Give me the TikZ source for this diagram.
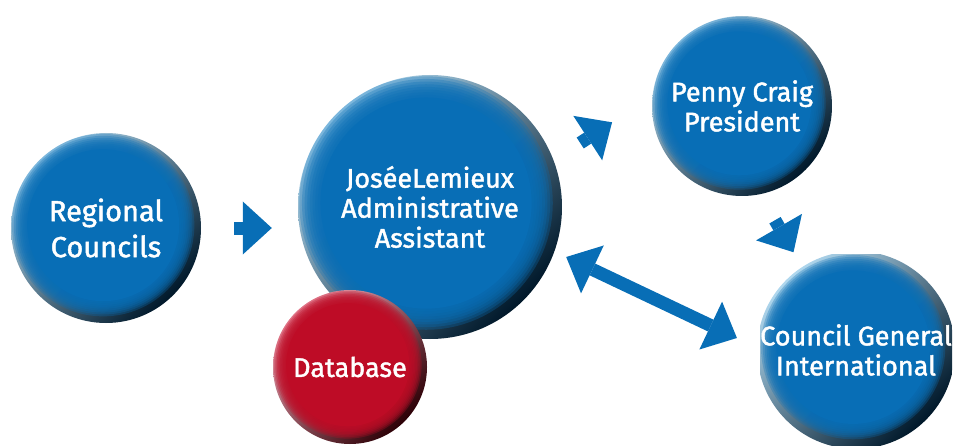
\documentclass[tikz,border=0pt]{standalone}
\usepackage{fontspec}
\setmainfont{Fira Sans}[BoldFont={Fira Sans}, BoldFeatures={FakeBold=1.6}]
\usetikzlibrary{arrows.meta}
\definecolor{btnblue}{RGB}{8,110,182}
\definecolor{btnbluelight}{RGB}{175,215,238}
\definecolor{btnbluedark}{RGB}{0,24,42}
\definecolor{btnred}{RGB}{190,12,38}
\definecolor{btnredlight}{RGB}{240,160,176}
\definecolor{btnreddark}{RGB}{44,0,6}
\colorlet{face}{btnblue}
\colorlet{glow}{btnbluelight}
\colorlet{rim}{btnbluedark}
\tikzset{
  btn/.style={circle, minimum size=2*#1, inner sep=0pt, align=center, text=white,
    font=\bfseries\fontsize{27}{30}\selectfont,
    path picture={
      \shade[top color=glow, middle color=face, bottom color=rim, shading angle=45]
        ([shift={(-#1,-#1)}]path picture bounding box.center) rectangle ++(2*#1,2*#1);
      \foreach \k in {0,...,7}
        \fill[face, opacity=0.3] ([shift={(-0.03*#1,0.03*#1)}]path picture bounding box.center)
          circle ({(0.96-0.02*\k)*#1});
      \fill[face] ([shift={(-0.03*#1,0.03*#1)}]path picture bounding box.center) circle (0.8*#1);
    }},
  bluebtn/.style={/utils/exec={\colorlet{face}{btnblue}\colorlet{glow}{btnbluelight}\colorlet{rim}{btnbluedark}}},
  redbtn/.style={/utils/exec={\colorlet{face}{btnred}\colorlet{glow}{btnredlight}\colorlet{rim}{btnreddark}}},
  blockarrow/.style={line width=13pt, draw=btnblue, -{Triangle[length=29pt,width=53pt,line width=0pt]}},
  dblarrow/.style={line width=13pt, draw=btnblue,
    {Triangle[length=29pt,width=53pt,line width=0pt]}-{Triangle[length=29pt,width=53pt,line width=0pt]}}
}
\begin{document}
\begin{tikzpicture}[x=1pt,y=1pt]
  \useasboundingbox (0,0) rectangle (955,445);
  \node[btn=95, bluebtn, font=\bfseries\fontsize{29}{36}\selectfont] (regional) at (106,217) {Regional\\Councils};
  \node[btn=132, bluebtn] (josee) at (430,238) {JoséeLemieux\\Administrative\\Assistant};
  \node[btn=77, redbtn] (database) at (350,78) {Database};
  \node[btn=90, bluebtn] (penny) at (742,339) {Penny Craig\\President};
  \node[btn=96, bluebtn] (council) at (856,95) {Council General\\International};
  \draw[blockarrow, shorten <=33pt, shorten >=26pt] (regional.east) -- (regional.east -| josee.west);
  \draw[blockarrow] ([shift={(18,64)}]josee.east) -- ++(33:38);
  \draw[blockarrow] ([shift={(33,-24)}]penny.south) -- ++(-60:37);
  \draw[dblarrow] ([shift={(4,-50)}]josee.east) -- ([shift={(-20,12)}]council.west);
\end{tikzpicture}
\end{document}
